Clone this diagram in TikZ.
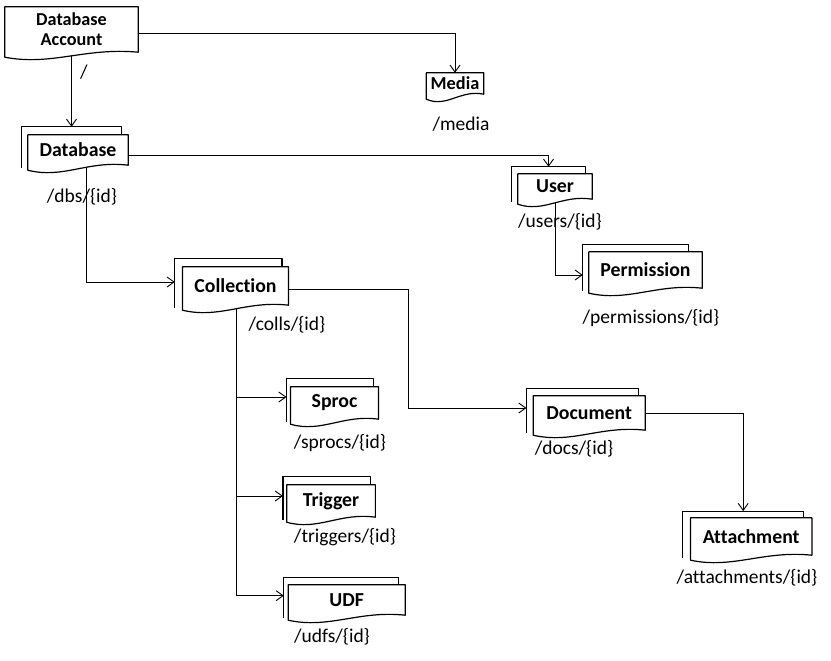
\documentclass[tikz,border=0pt]{standalone}
\usepackage{fontspec}
\setmainfont{Carlito}[Ligatures=NoCommon]
\usetikzlibrary{arrows.meta,calc}
\pgfdeclarelayer{wires}
\pgfdeclarelayer{pages}
\pgfsetlayers{wires,pages,main}
\tikzset{
  % Text of a page (bold, centred)
  docbox/.style={rectangle,inner sep=0pt,align=center,
    font=\fontsize{19.8}{20}\selectfont\bfseries},
  % Address under a page
  addr/.style={inner sep=0pt,font=\fontsize{19.5}{20}\selectfont},
  % Outline of a page
  pageline/.style={draw=black,line width=1.2pt,fill=white,line join=round},
  % Arrows
  link/.style={-{Straight Barb[length=7pt,width=10pt]},line width=0.9pt},
}
% Front page with a wavy bottom
\newcommand\docpage[1]{%
  \draw[pageline] (#1.north west) -- ([yshift=-5pt]#1.south west)
    .. controls ($(#1.south west)!0.35!(#1.south east)+(0,-14pt)$)
    and ($(#1.south west)!0.6!(#1.south east)+(0,5pt)$) .. (#1.south east)
    -- (#1.north east) -- cycle;}
% Page behind the front one
\newcommand\backpage[4]{%
  \draw[pageline] ([xshift=-#2 pt,yshift=-3pt]#1.south west)
    -- ([xshift=-#2 pt,yshift=#4 pt]#1.north west)
    -- ([xshift=-#3 pt,yshift=#4 pt]#1.north east)
    -- ([xshift=-#3 pt]#1.north east);}

\begin{document}
\begin{tikzpicture}[x=1pt,y=-1pt]
  \useasboundingbox (0,0) rectangle (831,661);

  % Pages
  \node[docbox,minimum width=133pt,minimum height=45pt,
    font=\fontsize{18.2}{20}\selectfont\bfseries] (acct) at (71.5,29.5) {Database\\Account};
  \node[docbox,minimum width=57pt,minimum height=21pt,
    font=\fontsize{18.3}{20}\selectfont\bfseries] (media) at (455,83.5) {Media};
  \node[docbox,minimum width=100pt,minimum height=30pt] (dbs) at (78,150) {Database};
  \node[docbox,minimum width=74pt,minimum height=25pt] (user) at (555,186.5) {User};
  \node[docbox,minimum width=113pt,minimum height=36pt] (perm) at (645.5,270) {Permission};
  \node[docbox,minimum width=105.6pt,minimum height=38pt] (coll) at (235.5,286) {Collection};
  \node[docbox,minimum width=87.6pt,minimum height=32pt] (sproc) at (334.5,403) {Sproc};
  \node[docbox,minimum width=88.3pt,minimum height=32pt] (trigger) at (331,501) {Trigger};
  \node[docbox,minimum width=116.7pt,minimum height=30pt] (udf) at (346.7,600) {UDF};
  \node[docbox,minimum width=111.7pt,minimum height=34pt] (doc) at (589.2,413) {Document};
  \node[docbox,minimum width=121pt,minimum height=37pt] (attach) at (751.2,536.5) {Attachment};

  % Addresses
  \node[addr] (acct-l) at (84,72) {/};
  \node[addr] (media-l) at (461,124) {/media};
  \node[addr] (dbs-l) at (82,197) {/dbs/\{id\}};
  \node[addr] (user-l) at (560,222) {/users/\{id\}};
  \node[addr] (perm-l) at (651,318) {/permissions/\{id\}};
  \node[addr] (coll-l) at (287,325) {/colls/\{id\}};
  \node[addr] (sproc-l) at (340,443) {/sprocs/\{id\}};
  \node[addr] (trigger-l) at (345,537) {/triggers/\{id\}};
  \node[addr] (udf-l) at (332,637) {/udfs/\{id\}};
  \node[addr] (doc-l) at (574,449) {/docs/\{id\}};
  \node[addr] (attach-l) at (747,578) {/attachments/\{id\}};

  \begin{pgfonlayer}{pages}
    \docpage{acct}
    \docpage{media}
    \foreach \n/\l/\r/\t in {dbs/6.6/6.6/8,user/6.3/6.7/7,perm/6/14/7,
      coll/7.7/6.6/8,sproc/4/5/8.7,trigger/3.7/5/8,udf/4.3/7/7.3,
      doc/6.7/6.7/7,attach/8/8.3/6.7}
    {\backpage{\n}{\l}{\r}{\t}\docpage{\n}}
  \end{pgfonlayer}

  \begin{pgfonlayer}{wires}
    \draw[link] ([yshift=-3.5pt]acct.east) -| (media.north);
    \draw[link] (acct.center) -- ([xshift=-6.5pt,yshift=8pt]dbs.north);
    \draw[link] ([yshift=-5pt]dbs.east) -| ([xshift=-6.5pt,yshift=7pt]user.north);
    \draw[link] ([xshift=8.5pt]dbs.center) |- ([xshift=-7.7pt,yshift=4pt]coll.west);
    \draw[link] (user.center) |- ([xshift=-6pt,yshift=-5pt]perm.west);
    \draw[link] ([yshift=-3pt]coll.east) -- ++(120,0)
      |- ([xshift=-6.7pt,yshift=5pt]doc.west);
    \foreach \n/\dx/\dy in {sproc/4/6,trigger/3.7/5,udf/4.3/4.3}
      \draw[link] ([xshift=1pt]coll.center) |- ([xshift=-\dx pt,yshift=\dy pt]\n.west);
    \draw[link] (doc.east) -| ([xshift=-8pt,yshift=6.7pt]attach.north);
  \end{pgfonlayer}
\end{tikzpicture}
\end{document}
